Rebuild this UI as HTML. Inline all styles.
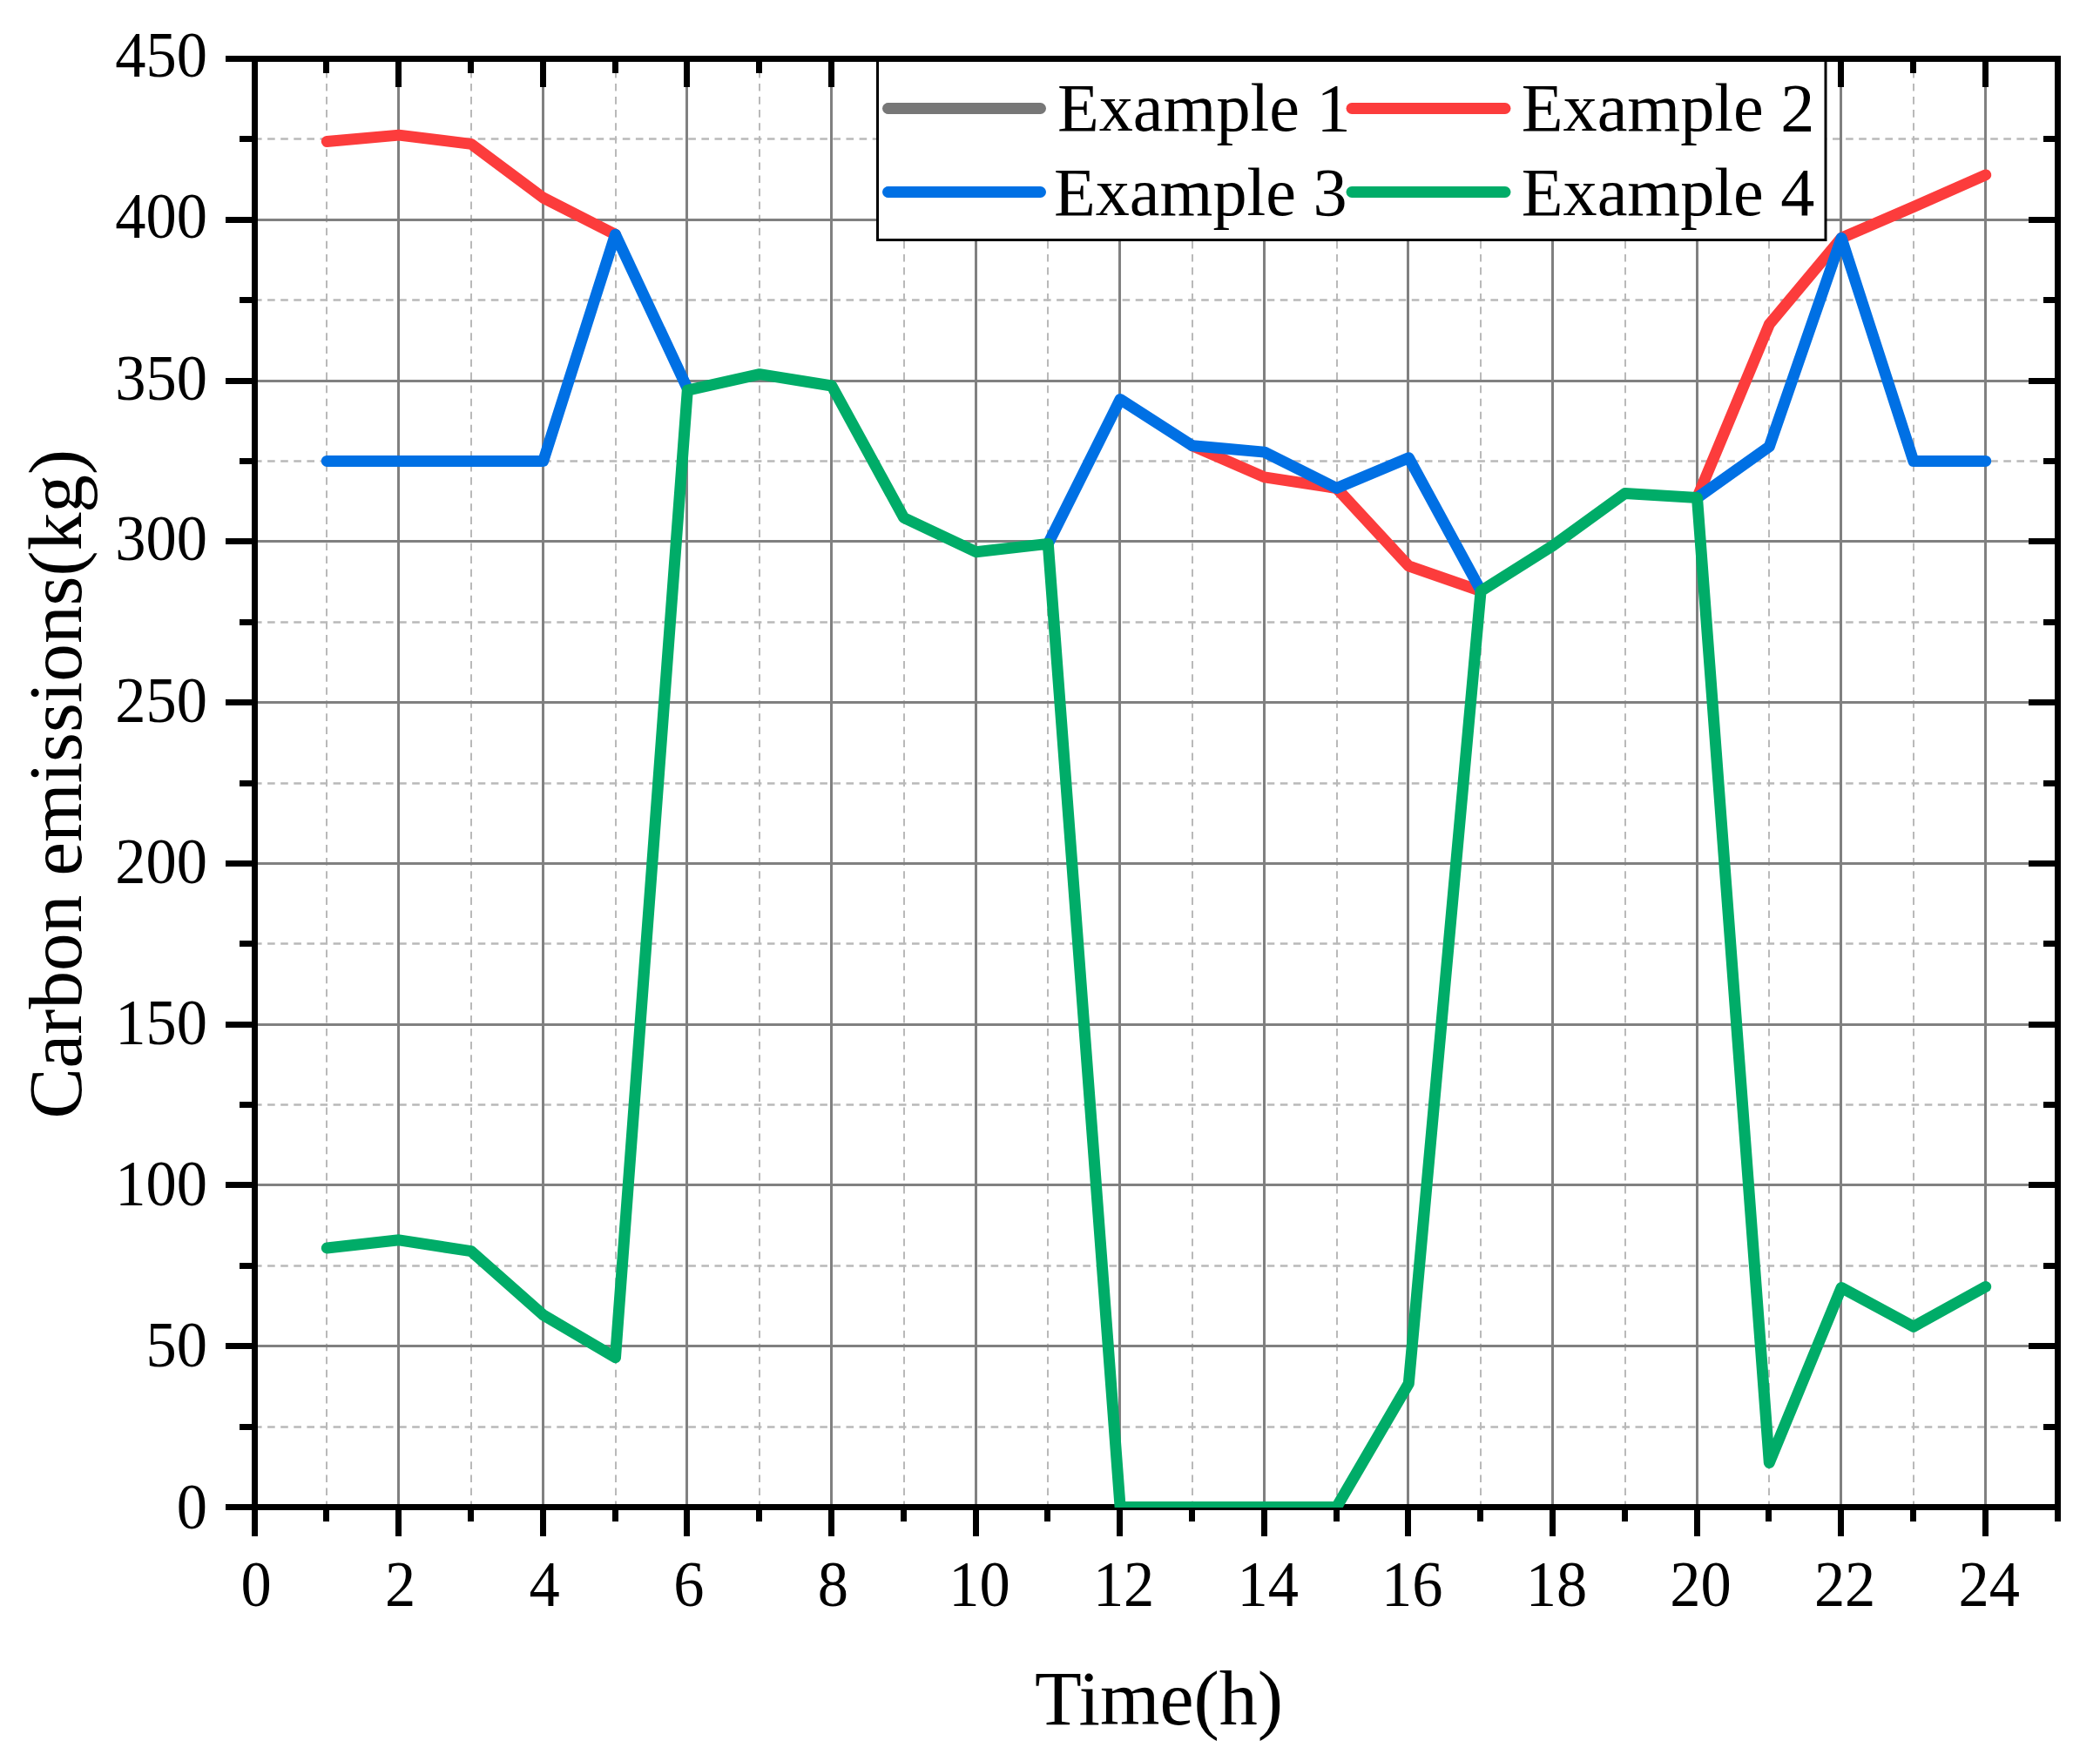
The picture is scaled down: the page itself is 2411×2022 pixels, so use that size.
<!DOCTYPE html>
<html lang="en"><head><meta charset="utf-8"><title>Carbon emissions</title>
<style>html,body{margin:0;padding:0;background:#fff}body{width:2411px;height:2022px;overflow:hidden}svg{display:block}text{font-family:"Liberation Serif",serif;fill:#000}</style></head><body>
<svg width="2411" height="2022" viewBox="0 0 2411 2022">
<rect width="2411" height="2022" fill="#fff"/>
<defs><clipPath id="plot"><rect x="292.5" y="67.5" width="2070.0" height="1663.5"/></clipPath></defs>
<path d="M375.0 67.5 V1730.5 M541.0 67.5 V1730.5 M707.0 67.5 V1730.5 M872.0 67.5 V1730.5 M1038.0 67.5 V1730.5 M1203.0 67.5 V1730.5 M1369.0 67.5 V1730.5 M1535.0 67.5 V1730.5 M1700.0 67.5 V1730.5 M1866.0 67.5 V1730.5 M2031.0 67.5 V1730.5 M2197.0 67.5 V1730.5" stroke="#b9b9b9" stroke-width="2" stroke-dasharray="8.6 6.47" stroke-dashoffset="1.66" fill="none"/>
<path d="M292.5 1638.5 H2362.5 M292.5 1453.5 H2362.5 M292.5 1268.5 H2362.5 M292.5 1083.5 H2362.5 M292.5 899.5 H2362.5 M292.5 714.5 H2362.5 M292.5 529.5 H2362.5 M292.5 344.5 H2362.5 M292.5 159.5 H2362.5" stroke="#b9b9b9" stroke-width="2.6" stroke-dasharray="8.6 6.5" stroke-dashoffset="0.5" fill="none"/>
<path d="M457.5 67.5 V1730.5 M623.5 67.5 V1730.5 M788.5 67.5 V1730.5 M954.5 67.5 V1730.5 M1120.5 67.5 V1730.5 M1285.5 67.5 V1730.5 M1451.5 67.5 V1730.5 M1616.5 67.5 V1730.5 M1782.5 67.5 V1730.5 M1948.5 67.5 V1730.5 M2113.5 67.5 V1730.5 M2279.5 67.5 V1730.5 M292.5 1545.5 H2362.5 M292.5 1360.5 H2362.5 M292.5 1176.5 H2362.5 M292.5 991.5 H2362.5 M292.5 806.5 H2362.5 M292.5 621.5 H2362.5 M292.5 437.5 H2362.5 M292.5 252.5 H2362.5" stroke="#808080" stroke-width="3" fill="none"/>
<g stroke="#000" stroke-width="7" fill="none" stroke-linecap="butt">
<path d="M259.0 67.5 H2366.0 M259.0 1730.5 H2366.0 M292.5 64.0 V1764.0 M2362.5 64.0 V1747.0 M374.5 1730.5 V1747.0 M374.5 67.5 V84.0 M457.5 1730.5 V1764.0 M457.5 67.5 V100.0 M540.5 1730.5 V1747.0 M540.5 67.5 V84.0 M623.5 1730.5 V1764.0 M623.5 67.5 V100.0 M706.5 1730.5 V1747.0 M706.5 67.5 V84.0 M788.5 1730.5 V1764.0 M788.5 67.5 V100.0 M871.5 1730.5 V1747.0 M871.5 67.5 V84.0 M954.5 1730.5 V1764.0 M954.5 67.5 V100.0 M1037.5 1730.5 V1747.0 M1037.5 67.5 V84.0 M1120.5 1730.5 V1764.0 M1120.5 67.5 V100.0 M1202.5 1730.5 V1747.0 M1202.5 67.5 V84.0 M1285.5 1730.5 V1764.0 M1285.5 67.5 V100.0 M1368.5 1730.5 V1747.0 M1368.5 67.5 V84.0 M1451.5 1730.5 V1764.0 M1451.5 67.5 V100.0 M1534.5 1730.5 V1747.0 M1534.5 67.5 V84.0 M1616.5 1730.5 V1764.0 M1616.5 67.5 V100.0 M1699.5 1730.5 V1747.0 M1699.5 67.5 V84.0 M1782.5 1730.5 V1764.0 M1782.5 67.5 V100.0 M1865.5 1730.5 V1747.0 M1865.5 67.5 V84.0 M1948.5 1730.5 V1764.0 M1948.5 67.5 V100.0 M2030.5 1730.5 V1747.0 M2030.5 67.5 V84.0 M2113.5 1730.5 V1764.0 M2113.5 67.5 V100.0 M2196.5 1730.5 V1747.0 M2196.5 67.5 V84.0 M2279.5 1730.5 V1764.0 M2279.5 67.5 V100.0 M292.5 1638.5 H275.0 M2362.5 1638.5 H2346.0 M292.5 1545.5 H259.0 M2362.5 1545.5 H2329.0 M292.5 1453.5 H275.0 M2362.5 1453.5 H2346.0 M292.5 1360.5 H259.0 M2362.5 1360.5 H2329.0 M292.5 1268.5 H275.0 M2362.5 1268.5 H2346.0 M292.5 1176.5 H259.0 M2362.5 1176.5 H2329.0 M292.5 1083.5 H275.0 M2362.5 1083.5 H2346.0 M292.5 991.5 H259.0 M2362.5 991.5 H2329.0 M292.5 899.5 H275.0 M2362.5 899.5 H2346.0 M292.5 806.5 H259.0 M2362.5 806.5 H2329.0 M292.5 714.5 H275.0 M2362.5 714.5 H2346.0 M292.5 621.5 H259.0 M2362.5 621.5 H2329.0 M292.5 529.5 H275.0 M2362.5 529.5 H2346.0 M292.5 437.5 H259.0 M2362.5 437.5 H2329.0 M292.5 344.5 H275.0 M2362.5 344.5 H2346.0 M292.5 252.5 H259.0 M2362.5 252.5 H2329.0 M292.5 159.5 H275.0 M2362.5 159.5 H2346.0"/>
</g>
<g clip-path="url(#plot)">
<polyline points="375.3,162.5 458.1,155.1 540.9,165.4 623.7,227.1 706.5,269.3" fill="none" stroke="#fc3c3c" stroke-width="13" stroke-linejoin="round" stroke-linecap="round"/>
<polyline points="1368.9,511.7 1451.7,547.9 1534.5,560.5 1617.3,649.9 1700.1,678.7" fill="none" stroke="#fc3c3c" stroke-width="13" stroke-linejoin="round" stroke-linecap="round"/>
<polyline points="1948.5,571.6 2031.3,372.4 2114.1,273.3 2196.9,237.5 2279.7,200.9" fill="none" stroke="#fc3c3c" stroke-width="13" stroke-linejoin="round" stroke-linecap="round"/>
<polyline points="375.3,529.4 458.1,529.4 540.9,529.4 623.7,529.4 706.5,269.3 789.3,446.3" fill="none" stroke="#0070e4" stroke-width="13" stroke-linejoin="round" stroke-linecap="round"/>
<polyline points="1203.3,624.4 1286.1,458.5 1368.9,511.7 1451.7,519.1 1534.5,560.5 1617.3,525.7 1700.1,678.0" fill="none" stroke="#0070e4" stroke-width="13" stroke-linejoin="round" stroke-linecap="round"/>
<polyline points="1948.5,571.6 2031.3,512.8 2114.1,273.3 2196.9,529.4 2279.7,529.4" fill="none" stroke="#0070e4" stroke-width="13" stroke-linejoin="round" stroke-linecap="round"/>
<polyline points="375.3,1433.0 458.1,1423.8 540.9,1436.7 623.7,1509.9 706.5,1558.7 789.3,448.1 872.1,429.7 954.9,443.0 1037.7,594.5 1120.5,633.7 1203.3,624.4 1286.1,1730.5 1368.9,1730.5 1451.7,1730.5 1534.5,1730.5 1617.3,1588.6 1700.1,678.7 1782.9,626.6 1865.7,566.4 1948.5,571.6 2031.3,1679.5 2114.1,1478.5 2196.9,1523.2 2279.7,1477.4" fill="none" stroke="#00ac68" stroke-width="13" stroke-linejoin="round" stroke-linecap="round"/>
</g>
<rect x="1007.5" y="69" width="1088.5" height="206.5" fill="#fff" stroke="#000" stroke-width="3"/>
<line x1="1019.5" y1="124.5" x2="1194.5" y2="124.5" stroke="#777777" stroke-width="13" stroke-linecap="round"/>
<line x1="1552.0" y1="124.5" x2="1728.0" y2="124.5" stroke="#fc3c3c" stroke-width="13" stroke-linecap="round"/>
<line x1="1019.5" y1="220.5" x2="1194.5" y2="220.5" stroke="#0070e4" stroke-width="13" stroke-linecap="round"/>
<line x1="1552.0" y1="220.5" x2="1728.0" y2="220.5" stroke="#00ac68" stroke-width="13" stroke-linecap="round"/>
<g font-size="79">
<text transform="translate(1214.0,150.0) scale(0.990,1)">Example 1</text>
<text transform="translate(1746.8,150.0) scale(0.990,1)">Example 2</text>
<text transform="translate(1210.0,246.7) scale(0.990,1)">Example 3</text>
<text transform="translate(1746.8,246.7) scale(0.990,1)">Example 4</text>
</g>
<path d="M259.0 67.5 H2366.0" stroke="#000" stroke-width="7"/>
<g font-size="73">
<text transform="translate(294.0,1844) scale(0.965,1)" text-anchor="middle">0</text>
<text transform="translate(459.6,1844) scale(0.965,1)" text-anchor="middle">2</text>
<text transform="translate(625.2,1844) scale(0.965,1)" text-anchor="middle">4</text>
<text transform="translate(790.8,1844) scale(0.965,1)" text-anchor="middle">6</text>
<text transform="translate(956.4,1844) scale(0.965,1)" text-anchor="middle">8</text>
<text transform="translate(1124.5,1844) scale(0.965,1)" text-anchor="middle">10</text>
<text transform="translate(1290.1,1844) scale(0.965,1)" text-anchor="middle">12</text>
<text transform="translate(1455.7,1844) scale(0.965,1)" text-anchor="middle">14</text>
<text transform="translate(1621.3,1844) scale(0.965,1)" text-anchor="middle">16</text>
<text transform="translate(1786.9,1844) scale(0.965,1)" text-anchor="middle">18</text>
<text transform="translate(1952.5,1844) scale(0.965,1)" text-anchor="middle">20</text>
<text transform="translate(2118.1,1844) scale(0.965,1)" text-anchor="middle">22</text>
<text transform="translate(2283.7,1844) scale(0.965,1)" text-anchor="middle">24</text>
<text transform="translate(238,1754.5) scale(0.965,1)" text-anchor="end">0</text>
<text transform="translate(238,1569.1) scale(0.965,1)" text-anchor="end">50</text>
<text transform="translate(238,1383.7) scale(0.965,1)" text-anchor="end">100</text>
<text transform="translate(238,1199.3) scale(0.965,1)" text-anchor="end">150</text>
<text transform="translate(238,1013.9) scale(0.965,1)" text-anchor="end">200</text>
<text transform="translate(238,828.5) scale(0.965,1)" text-anchor="end">250</text>
<text transform="translate(238,643.2) scale(0.965,1)" text-anchor="end">300</text>
<text transform="translate(238,458.8) scale(0.965,1)" text-anchor="end">350</text>
<text transform="translate(238,273.4) scale(0.965,1)" text-anchor="end">400</text>
<text transform="translate(238,88.0) scale(0.965,1)" text-anchor="end">450</text>
</g>
<text x="1330.5" y="1979.5" font-size="88" text-anchor="middle">Time(h)</text>
<text transform="translate(92.8,900.3) rotate(-90)" font-size="87.3" text-anchor="middle">Carbon emissions(kg)</text>
</svg></body></html>
